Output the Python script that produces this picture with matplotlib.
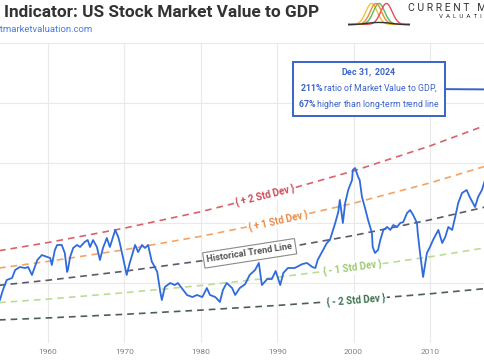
import numpy as np
import matplotlib
matplotlib.use("Agg")
import matplotlib.pyplot as plt

plt.rcParams['font.family'] = ['Roboto', 'DejaVu Sans']
plt.rcParams['mathtext.fontset'] = 'custom'
plt.rcParams['mathtext.rm'] = 'Roboto'
plt.rcParams['mathtext.bf'] = 'Roboto:bold'

# Market value to GDP (%)
years = [1953.7, 1954.1, 1954.6, 1955.3, 1955.7, 1956.3, 1957.0, 1957.4, 1957.9, 1958.6,
         1959.2, 1959.9, 1960.3, 1960.5, 1960.9, 1961.2, 1961.8, 1962.2, 1962.5, 1962.6,
         1962.9, 1963.3, 1963.8, 1964.2, 1964.8, 1965.2, 1965.5, 1965.9, 1966.4, 1966.8,
         1967.2, 1967.7, 1968.1, 1968.8, 1969.2, 1969.4, 1969.8, 1970.3, 1970.7, 1971.4,
         1971.8, 1972.3, 1972.7, 1973.1, 1973.6, 1973.7, 1974.3, 1974.7, 1974.9, 1975.3,
         1976.0, 1976.6, 1977.0, 1977.5, 1978.2, 1978.9, 1979.5, 1980.2, 1980.8, 1981.2,
         1981.9, 1982.5, 1982.9, 1983.4, 1984.1, 1984.5, 1985.1, 1985.8, 1986.4, 1987.1,
         1987.6, 1988.0, 1988.7, 1989.3, 1989.8, 1990.4, 1990.8, 1991.4, 1992.3, 1993.3,
         1993.9, 1994.6, 1995.0, 1995.3, 1996.0, 1996.5, 1996.9, 1997.6, 1998.0, 1998.2,
         1998.6, 1998.9, 1999.3, 1999.8, 1999.9, 2000.2, 2000.6, 2000.8, 2001.1, 2001.5,
         2001.9, 2002.4, 2002.5, 2002.8, 2003.2, 2003.5, 2003.9, 2004.4, 2004.8, 2005.2,
         2005.7, 2006.1, 2006.5, 2007.0, 2007.4, 2007.8, 2008.3, 2008.4, 2008.7, 2009.1,
         2009.6, 2010.0, 2010.4, 2011.1, 2011.6, 2012.0, 2012.4, 2012.9, 2013.3, 2013.7,
         2014.2, 2014.8, 2015.2, 2015.9, 2016.3, 2016.8, 2017.2, 2017.7, 2018.0, 2018.9,
         2019.5, 2020.0, 2020.2, 2020.9, 2021.9, 2022.8, 2023.5, 2024.0, 2024.99]
ratio = [35.8, 44.2, 52.5, 54.2, 60.8, 63.3, 62.5, 63.3, 56.7, 69.2,
         73.3, 71.7, 70.8, 65.0, 77.5, 81.7, 81.7, 75.0, 59.2, 60.8,
         71.7, 79.2, 81.7, 80.0, 84.2, 85.8, 80.0, 85.8, 80.0, 69.2,
         79.2, 87.5, 80.0, 94.2, 88.3, 83.3, 71.7, 56.7, 66.7, 81.7,
         75.8, 81.7, 79.2, 81.7, 67.5, 66.7, 59.2, 42.5, 35.8, 46.7,
         50.0, 48.3, 50.0, 45.8, 40.0, 38.3, 40.0, 38.3, 45.8, 40.0,
         38.3, 34.2, 44.2, 50.0, 45.8, 40.0, 45.8, 49.0, 56.7, 60.8,
         66.7, 48.3, 53.3, 53.3, 60.0, 48.3, 58.3, 62.5, 62.5, 65.8,
         66.7, 63.3, 62.5, 69.2, 77.5, 83.3, 85.8, 100.0, 109.2, 119.2,
         100.0, 116.7, 127.5, 135.8, 144.2, 145.8, 138.3, 135.8, 121.7, 112.5,
         102.5, 91.7, 80.0, 75.0, 77.5, 85.8, 94.2, 96.7, 94.2, 98.3,
         96.7, 100.0, 100.8, 108.3, 110.8, 106.7, 100.0, 91.7, 75.0, 55.0,
         75.0, 80.0, 85.8, 94.2, 83.3, 88.3, 96.7, 94.2, 105.0, 116.7,
         125.0, 127.5, 121.7, 113.3, 121.7, 127.5, 135.8, 140.0, 148.0, 128.0,
         150.0, 158.0, 125.0, 180.0, 205.0, 155.0, 170.0, 185.0, 211.0]

# trend line and std-dev bands (%), read at decade marks
band_years = [1950, 1960, 1970, 1980, 1990, 2000, 2010, 2020, 2030]
trend = [45.7, 52.3, 59.8, 68.4, 78.3, 89.6, 102.6, 117.4, 134.4]
plus2 = [73.1, 83.7, 95.7, 109.4, 125.3, 143.4, 164.2, 187.8, 215.0]
plus1 = [59.4, 68.0, 77.7, 88.9, 101.8, 116.5, 133.4, 152.6, 174.7]
minus1 = [32.0, 36.6, 41.9, 47.9, 54.8, 62.7, 71.8, 82.2, 94.1]
minus2 = [18.3, 20.9, 23.9, 27.4, 31.3, 35.8, 41.0, 47.0, 53.8]

W, H = 485, 360
fig = plt.figure(figsize=(W / 100, H / 100), dpi=100)
ax = fig.add_axes([-28.4 / W, 17 / H, 580.6 / W, 300 / H])
ax.set_xlim(1950, 2026)
ax.set_ylim(0, 250)
for s in ax.spines.values():
    s.set_visible(False)
ax.set_xticks(range(1960, 2020, 10))
ax.set_yticks(range(50, 251, 50))
ax.set_yticklabels([])
ax.tick_params(length=0, labelsize=6, labelcolor='#808080', pad=4)
ax.grid(color='#e9e9e9', lw=0.8)
ax.set_axisbelow(True)

blue = '#2f6bdc'
bands = [
    (plus2, '#d9636a', '#d04a55', '{ + 2 Std Dev }', 1988.4),
    (plus1, '#f2a468', '#ec8a45', '{ + 1 Std Dev }', 1990.1),
    (trend, '#5a5a68', '#555555', 'Historical Trend Line', 1986.4),
    (minus1, '#bcdc94', '#9ccc70', '{ - 1 Std Dev }', 1999.8),
    (minus2, '#4d5e58', '#3e7450', '{ - 2 Std Dev }', 2000.3),
]
for vals, lc, tc, label, lx in bands:
    ax.plot(band_years, vals, color=lc, lw=1.2, dashes=(4, 3), zorder=2)
    ly = np.interp(lx, band_years, vals)
    slope = np.interp(lx + 1, band_years, vals) - ly
    ang = np.degrees(np.arctan2(slope, 1))
    if label.startswith('Historical'):
        box = dict(boxstyle='square,pad=0.35', fc='white', ec='#8a8a8a', lw=0.8)
        fs = 6.7
    else:
        box = dict(boxstyle='square,pad=0.15', fc='white', ec='none')
        fs = 7
    ax.text(lx, ly, label, color=tc, fontsize=fs, fontweight='bold', ha='center', va='center',
            rotation=ang, transform_rotates_text=True, rotation_mode='anchor', bbox=box, zorder=3)

ax.plot(years, ratio, color=blue, lw=1.3, zorder=4)

ann = ('$\\mathbf{Dec}$ $\\mathbf{31,}$ $\\mathbf{2024}$\n'
       '$\\mathbf{211\\%}$ ratio of Market Value to GDP,\n'
       '$\\mathbf{67\\%}$ higher than long-term trend line')
ax.annotate(ann, xy=(years[-1], ratio[-1]), xytext=(2002.0, 212), textcoords='data',
            ha='center', va='center', multialignment='center', fontsize=6.3, color='#3a63c9',
            linespacing=1.45,
            bbox=dict(boxstyle='square,pad=0.55', fc='white', ec='#3a63c9', lw=1.4),
            arrowprops=dict(arrowstyle='-', color='#3a63c9', lw=1.4, shrinkA=0, shrinkB=0),
            zorder=6)

# header
fig.text(4 / W, 1 - 17 / H, 'Indicator: US Stock Market Value to GDP', ha='left',
         va='baseline', fontsize=12.45, fontweight='bold', color='#333333')
fig.text(93 / W, 1 - 29 / H, 'www.currentmarketvaluation.com', ha='right', va='center',
         fontsize=6.8, color='#4a7be0')

# logo
lax = fig.add_axes([348 / W, 1 - 26 / H, 62 / W, 24 / H])
lax.axis('off')
u = np.linspace(0, 1, 120)
for c, col in [(0.38, '#f0c040'), (0.5, '#5cb85c'), (0.62, '#e0505a'), (0.45, '#e88a3a')]:
    lax.plot(u, 0.08 + np.exp(-((u - c) / 0.13) ** 2), color=col, lw=1.0)
lax.plot(u, 0.05 + 0.12 * np.exp(-((u - 0.5) / 0.3) ** 2), color='#333333', lw=1.0)
lax.set_xlim(0, 1)
lax.set_ylim(0, 1.15)
fig.text(408 / W, 1 - 8 / H, 'C U R R E N T   M A R K E T', ha='left', va='center',
         fontsize=7.5, color='#333333')
fig.text(439 / W, 1 - 17 / H, 'V  A  L  U  A  T  I  O  N', ha='left', va='center',
         fontsize=4.5, color='#333333')

fig.savefig('out.png', dpi=100)
